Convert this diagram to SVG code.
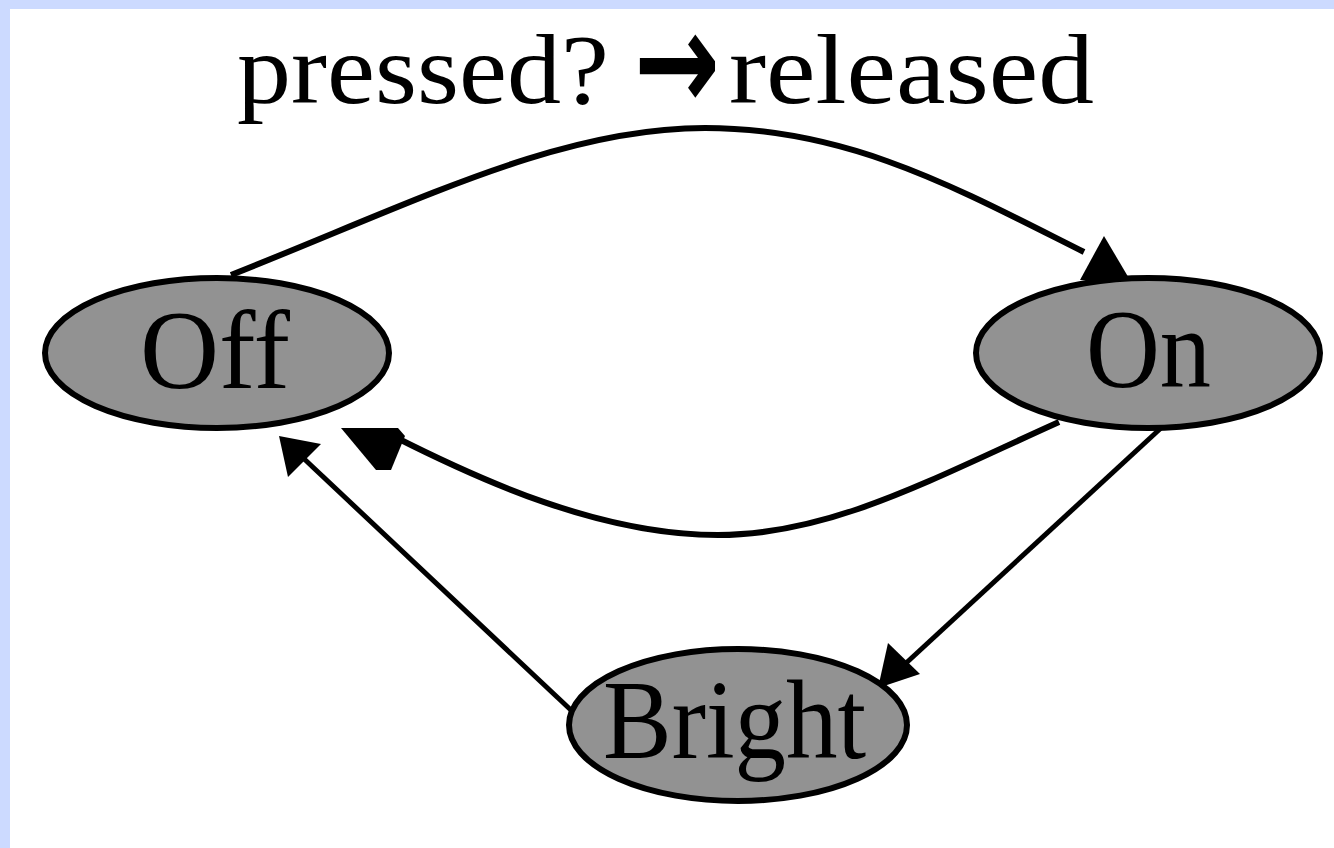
<svg xmlns="http://www.w3.org/2000/svg" width="1334" height="848" viewBox="0 0 1334 848">
  <style>
    .node ellipse { fill: #929292; stroke: #000; stroke-width: 6; }
    .node text { font-family: "Liberation Serif", "DejaVu Serif", serif; font-size: 112px; fill: #000; }
    .edge { fill: none; stroke: #000; stroke-width: 6; }
    .edge.thin { stroke-width: 5; }
    .head { fill: #000; stroke: none; }
    .title { font-family: "Liberation Serif", "DejaVu Serif", serif; font-size: 100px; fill: #000; }
    .arrow { font-family: "DejaVu Sans", sans-serif; font-weight: bold; font-size: 140px; fill: #000; }
  </style>

  <!-- page frame -->
  <rect x="0" y="0" width="1334" height="848" fill="#ffffff"/>
  <rect x="0" y="0" width="1334" height="9" fill="#ccdaff"/>
  <rect x="0" y="0" width="10" height="848" fill="#ccdaff"/>

  <!-- graph label -->
  <g id="label">
    <text class="title" x="237" y="103" textLength="372" lengthAdjust="spacingAndGlyphs">pressed?</text>
    <text class="arrow" x="634" y="110" textLength="86" lengthAdjust="spacingAndGlyphs">→</text>
    <text class="title" x="729" y="103" textLength="365" lengthAdjust="spacingAndGlyphs">released</text>
  </g>

  <!-- transitions -->
  <g id="edges">
    <!-- Off -> On -->
    <path class="edge" d="M231,275 C420,200 560,128 705,128 C850,128 960,190 1084,252"/>
    <polygon class="head" points="1104,236 1130,280 1080,280"/>
    <!-- On -> Off -->
    <path class="edge" d="M1059,422 C930,480 830,535 718,535 C600,535 480,480 395,437"/>
    <polygon class="head" points="341,428 398,428 405,436 391,470 376,470"/>
    <!-- On -> Bright -->
    <path class="edge thin" d="M1161,428 L904,665"/>
    <polygon class="head" points="888,643 920,674 878,688"/>
    <!-- Bright -> Off -->
    <path class="edge thin" d="M573,712 L300,455"/>
    <polygon class="head" points="279,436 321,444 288,477"/>
  </g>

  <g id="node-off" class="node">
    <ellipse cx="217" cy="353" rx="172" ry="75"/>
    <text x="140" y="388" textLength="150" lengthAdjust="spacingAndGlyphs">Off</text>
  </g>

  <g id="node-on" class="node">
    <ellipse cx="1148" cy="353" rx="172" ry="75"/>
    <text x="1086" y="387" textLength="125" lengthAdjust="spacingAndGlyphs">On</text>
  </g>

  <g id="node-bright" class="node">
    <ellipse cx="738" cy="725" rx="169" ry="76"/>
    <text x="603" y="758" textLength="263" lengthAdjust="spacingAndGlyphs">Bright</text>
  </g>
</svg>
